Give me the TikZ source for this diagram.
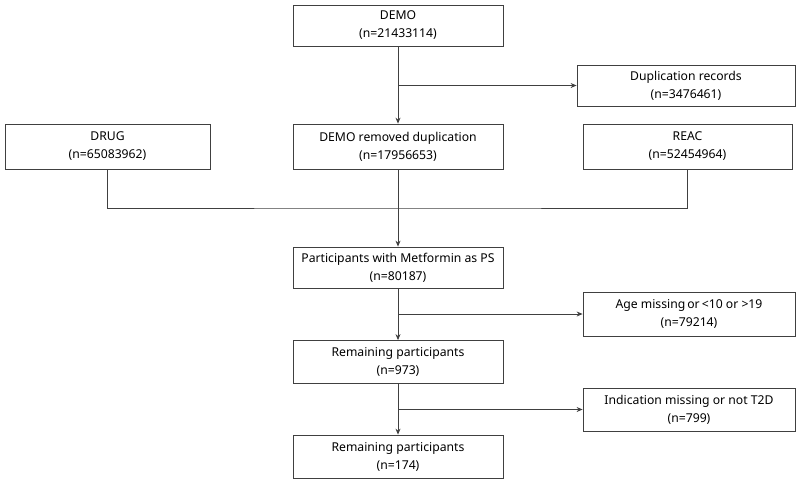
\documentclass[tikz,border=0pt]{standalone}
\usepackage{fontspec}
\setmainfont{Noto Sans}
\usetikzlibrary{arrows.meta}

\tikzset{
  box/.style={draw=black!75, line width=0.8pt, align=center, inner sep=0pt,
    font=\fontsize{12.2}{18}\selectfont},
  arr/.style={draw=black!75, line width=0.8pt, -{Stealth[length=6pt,width=5pt]}},
  ln/.style={draw=black!75, line width=0.8pt}
}

\begin{document}
\begin{tikzpicture}[x=1pt,y=-1pt]
			\useasboundingbox (0,0) rectangle (798,482);
			\node[box, minimum width=210pt, minimum height=41pt] (demo) at (398,25.5) {DEMO\\(n=21433114)};
			\node[box, minimum width=218pt, minimum height=41pt] (dup) at (686,85.5) {Duplication records\\(n=3476461)};
			\node[box, minimum width=205pt, minimum height=45pt] (drug) at (107.5,146.5) {DRUG\\(n=65083962)};
			\node[box, minimum width=210pt, minimum height=45pt] (demorm) at (398,146.5) {DEMO removed duplication\\(n=17956653)};
			\node[box, minimum width=209pt, minimum height=45pt] (reac) at (687.5,146.5) {REAC\\(n=52454964)};
			\node[box, minimum width=210pt, minimum height=41pt] (part) at (398,267.5) {Participants with Metformin as PS\\(n=80187)};
			\node[box, minimum width=212pt, minimum height=44pt] (age) at (689,314) {Age missing\,or\,{<}10 or {>}19\\(n=79214)};
			\node[box, minimum width=210pt, minimum height=43pt] (rem) at (398,362) {Remaining participants\\(n=973)};
			\node[box, minimum width=212pt, minimum height=43pt] (ind) at (689,409.5) {Indication missing or not T2D\\(n=799)};
			\node[box, minimum width=210pt, minimum height=43pt] (final) at (398,456.5) {Remaining participants\\(n=174)};
			\coordinate (join) at (398,208);
			\draw[arr] (demo) -- (demorm);
			\draw[arr] (demo.south |- dup.west) -- (dup.west);
			\draw[ln] (drug.south) |- (join) -| (reac.south);
			\draw[arr] (demorm) -- (part);
			\draw[arr] (part) -- (rem);
			\draw[arr] (part.south |- age.west) -- (age.west);
			\draw[arr] (rem) -- (final);
			\draw[arr] (rem.south |- ind.west) -- (ind.west);
		\end{tikzpicture}
\end{document}
